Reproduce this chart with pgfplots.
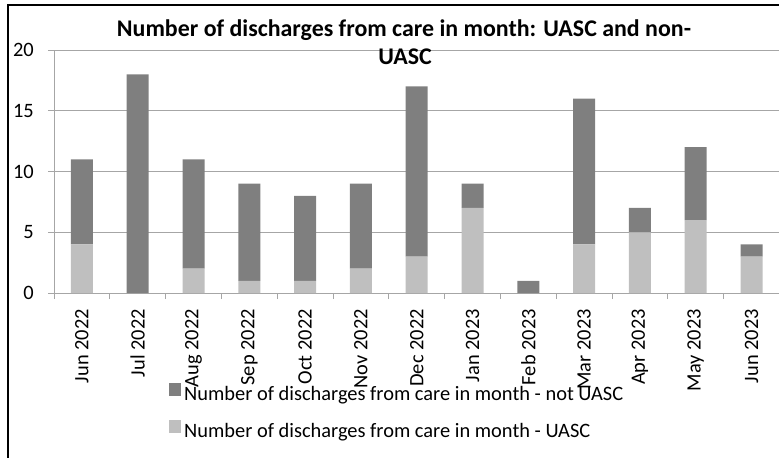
\documentclass[border=0pt]{standalone}
\usepackage{pgfplots}
\pgfplotsset{compat=1.18}
\usepackage{fontspec}
\setmainfont{Carlito}
\definecolor{darkbar}{HTML}{7F7F7F}
\definecolor{lightbar}{HTML}{BFBFBF}
\definecolor{gridc}{HTML}{A6A6A6}
\begin{document}
\begin{tikzpicture}
\begin{axis}[
  scale only axis,
  width=725.4bp, height=243bp,
  ybar stacked,
  bar width=22bp,
  xmin=-0.5, xmax=12.5,
  ymin=0, ymax=20,
  ytick={0,5,10,15,20},
  xtick={0,...,12},
  xticklabels={Jun 2022,Jul 2022,Aug 2022,Sep 2022,Oct 2022,Nov 2022,Dec 2022,Jan 2023,Feb 2023,Mar 2023,Apr 2023,May 2023,Jun 2023},
  minor xtick={-0.5,0.5,...,12.5},
  major x tick style={draw=none},
  minor x tick style={gridc, line width=1bp},
  minor tick length=6bp,
  tick align=outside,
  y tick style={gridc, line width=1bp},
  major tick length=6bp,
  ymajorgrids,
  grid style={gridc, line width=1bp},
  axis x line*=bottom,
  axis y line*=left,
  axis line style={gridc, line width=1bp},
  /pgf/number format/assume math mode=true,
  ticklabel style={font=\fontsize{20.5}{24}\selectfont, text=black},
  xticklabel style={rotate=90, anchor=east, inner sep=0pt},
  xticklabel shift=10bp,
  yticklabel style={anchor=east, inner sep=0pt, xshift=-14bp},
  legend style={at={(axis description cs:0.1585,-0.4938)}, anchor=west, draw=none, fill=none,
    inner sep=0pt, row sep=15bp, font=\fontsize{20.5}{24}\selectfont,
    nodes={inner xsep=3bp, inner ysep=0pt, text height=14bp, text depth=5bp}},
  legend cell align=left,
  reverse legend,
  legend image code/.code={\fill[#1] (0bp,0bp) rectangle (12bp,13bp);},
]
\addplot[fill=lightbar, draw=none] coordinates {(0,4) (1,0) (2,2) (3,1) (4,1) (5,2) (6,3) (7,7) (8,0) (9,4) (10,5) (11,6) (12,3)};
\addplot[fill=darkbar, draw=none] coordinates {(0,7) (1,18) (2,9) (3,8) (4,7) (5,7) (6,14) (7,2) (8,1) (9,12) (10,2) (11,6) (12,1)};
\legend{Number of discharges from care in month - UASC, Number of discharges from care in month - not UASC}
\end{axis}
\node[anchor=base, inner sep=0pt, font=\fontsize{24}{28}\selectfont\bfseries] at (350bp,256bp) {Number of discharges from care in month: UASC and non-};
\node[anchor=base, inner sep=0pt, font=\fontsize{24}{28}\selectfont\bfseries] at (351bp,228bp) {UASC};
\draw[black, line width=1.5bp] (-46bp,-170bp) -- (-46bp,288bp) -- (730bp,288bp);
\pgfresetboundingbox
\path[use as bounding box] (-54bp,-165bp) rectangle (725bp,293bp);
\end{tikzpicture}
\end{document}
